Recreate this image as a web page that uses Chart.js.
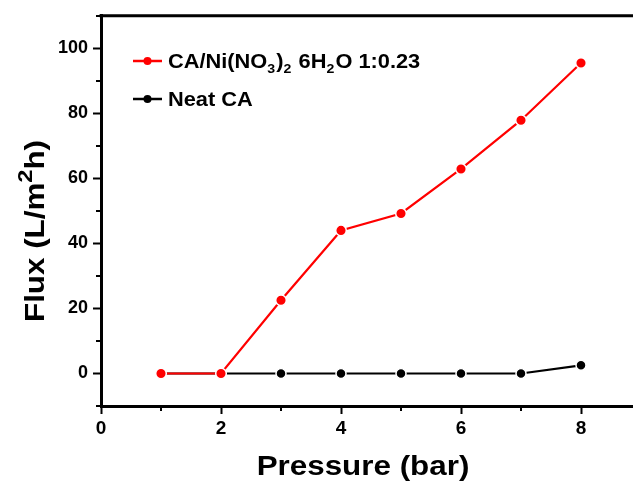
<!DOCTYPE html>
<html>
<head>
<meta charset="utf-8">
<script src="https://cdn.jsdelivr.net/npm/chart.js@4.4.1/dist/chart.umd.min.js"></script>
<style>
html,body{margin:0;padding:0;overflow:hidden;background:#fff;}
#wrap{width:660px;height:481px;position:relative;}
</style>
</head>
<body>
<div id="wrap"><canvas id="c"></canvas></div>
<script>
const pressure = [1, 2, 3, 4, 5, 6, 7, 8];
const fluxComposite = [0, 0, 22.5, 44.0, 49.2, 62.9, 77.9, 95.5];
const fluxNeat = [0, 0, 0, 0, 0, 0, 0, 2.5];
const xMajorTicks = [0, 2, 4, 6, 8];
const xMinorTicks = [1, 3, 5, 7, 9];
const yMajorTicks = [0, 20, 40, 60, 80, 100];
const yMinorTicks = [-10, 10, 30, 50, 70, 90, 110];
const seriesNames = ['CA/Ni(NO3)2 6H2O 1:0.23', 'Neat CA'];
const xTitle = 'Pressure (bar)';

const FONT = '"Liberation Sans", Arial, sans-serif';

function pts(ys) { return pressure.map((x, i) => ({x: x, y: ys[i]})); }

const framePlugin = {
  id: 'frame',
  afterDraw(chart) {
    const ctx = chart.ctx, a = chart.chartArea;
    const xs = chart.scales.x, ys = chart.scales.y;
    ctx.save();
    ctx.strokeStyle = '#000';
    ctx.lineWidth = 3;
    ctx.beginPath();
    ctx.moveTo(a.left - 1.5, a.top);
    ctx.lineTo(a.right, a.top);
    ctx.lineTo(a.right, a.bottom);
    ctx.stroke();
    // minor ticks
    ctx.lineWidth = 2;
    ctx.beginPath();
    xMinorTicks.forEach(v => {
      const px = Math.round(xs.getPixelForValue(v));
      ctx.moveTo(px, a.bottom); ctx.lineTo(px, a.bottom + 5);
    });
    yMinorTicks.forEach(v => {
      const py = Math.round(ys.getPixelForValue(v));
      ctx.moveTo(a.left, py); ctx.lineTo(a.left - 5, py);
    });
    ctx.stroke();

    // x title
    ctx.fillStyle = '#000';
    ctx.font = 'bold 28px ' + FONT;
    ctx.textAlign = 'center';
    ctx.textBaseline = 'alphabetic';
    ctx.save();
    ctx.translate(363, 475);
    ctx.scale(1.12, 1);
    ctx.fillText(xTitle, 0, 0);
    ctx.restore();

    // y title: Flux (L/m^2h)
    ctx.save();
    ctx.translate(44, 231);
    ctx.rotate(-Math.PI / 2);
    ctx.scale(1.12, 1);
    const mainFont = 'bold 28px ' + FONT, supFont = 'bold 21px ' + FONT;
    const p1 = 'Flux (L/m', p2 = '2', p3 = 'h)';
    ctx.font = mainFont; const w1 = ctx.measureText(p1).width, w3 = ctx.measureText(p3).width;
    ctx.font = supFont; const w2 = ctx.measureText(p2).width;
    let x0 = -(w1 + w2 + w3) / 2;
    ctx.textAlign = 'left';
    ctx.font = mainFont; ctx.fillText(p1, x0, 0); x0 += w1;
    ctx.font = supFont; ctx.fillText(p2, x0, -12); x0 += w2;
    ctx.font = mainFont; ctx.fillText(p3, x0, 0);
    ctx.restore();

    // legend
    const rows = [61, 99];
    chart.data.datasets.forEach((ds, i) => {
      const y = rows[i];
      ctx.strokeStyle = ds.borderColor;
      ctx.lineWidth = 2.5;
      ctx.beginPath(); ctx.moveTo(133, y); ctx.lineTo(162, y); ctx.stroke();
      ctx.fillStyle = ds.pointBackgroundColor;
      ctx.beginPath(); ctx.arc(147.5, y, 4, 0, Math.PI * 2); ctx.fill();
    });
    ctx.fillStyle = '#000';
    ctx.textAlign = 'left';
    ctx.textBaseline = 'alphabetic';
    const big = 'bold 20px ' + FONT, sub = 'bold 13px ' + FONT;
    const parts = [['CA/Ni(NO', big, 0], ['3', sub, 5], [')', big, 0], ['2', sub, 5], [' 6H', big, 0], ['2', sub, 5], ['O 1:0.23', big, 0]];
    ctx.save();
    ctx.translate(168, 0);
    ctx.scale(1.09, 1);
    let lx = 0;
    parts.forEach(p => {
      ctx.font = p[1];
      ctx.fillText(p[0], lx, 68 + p[2]);
      lx += ctx.measureText(p[0]).width + (p[1] === sub ? 1 : 0);
    });
    ctx.font = big;
    ctx.fillText(seriesNames[1], 0, 106);
    ctx.restore();
    ctx.restore();
  }
};

new Chart(document.getElementById('c'), {
  type: 'line',
  data: {
    datasets: [
      {
        label: seriesNames[0],
        data: pts(fluxComposite),
        borderColor: '#ff0000',
        backgroundColor: '#ff0000',
        pointBackgroundColor: '#ff0000',
        pointBorderColor: '#ffffff',
        pointBorderWidth: 1.5,
        pointRadius: 5.3,
        borderWidth: 2.2,
        tension: 0
      },
      {
        label: seriesNames[1],
        data: pts(fluxNeat),
        borderColor: '#000000',
        backgroundColor: '#000000',
        pointBackgroundColor: '#000000',
        pointBorderColor: '#ffffff',
        pointBorderWidth: 1.5,
        pointRadius: 5,
        borderWidth: 2.2,
        tension: 0
      }
    ]
  },
  options: {
    responsive: true,
    maintainAspectRatio: false,
    animation: false,
    devicePixelRatio: 1,
    layout: { padding: { top: 12, right: 19, left: 0, bottom: 0 } },
    plugins: { legend: { display: false }, tooltip: { enabled: false } },
    scales: {
      x: {
        type: 'linear', position: 'bottom', min: 0, max: 9,
        afterBuildTicks: s => { s.ticks = xMajorTicks.map(v => ({value: v})); },
        afterFit: s => { s.height = 75; },
        grid: { drawOnChartArea: false, drawTicks: true, tickLength: 8, tickWidth: 2, tickColor: '#000' },
        border: { display: true, color: '#000', width: 3 },
        ticks: { color: '#000', font: { family: FONT, size: 19, weight: 'bold' }, padding: 3, maxRotation: 0 }
      },
      y: {
        type: 'linear', position: 'left', min: -10, max: 110,
        afterBuildTicks: s => { s.ticks = yMajorTicks.map(v => ({value: v})); },
        afterFit: s => { s.width = 101; },
        grid: { drawOnChartArea: false, drawTicks: true, tickLength: 8, tickWidth: 2, tickColor: '#000' },
        border: { display: true, color: '#000', width: 3 },
        ticks: { color: '#000', font: { family: FONT, size: 18, weight: 'bold' }, padding: 5 }
      }
    }
  },
  plugins: [framePlugin]
});
</script>
</body>
</html>
